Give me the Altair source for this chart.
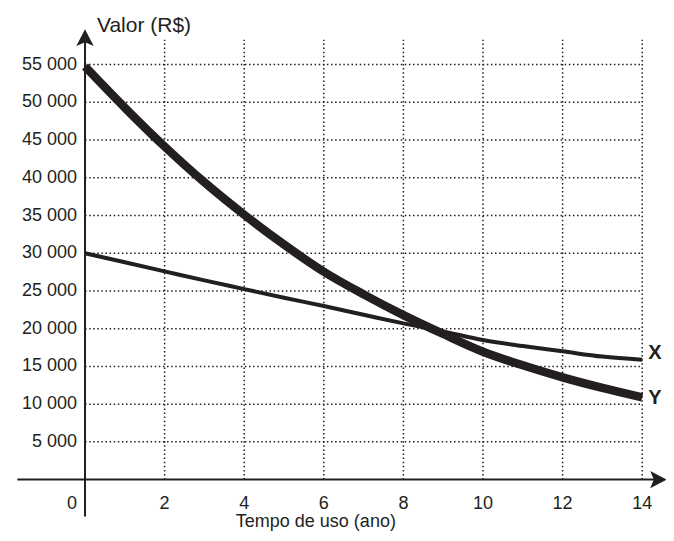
import altair as alt
import pandas as pd

# ---- data ----
anos = list(range(0, 15))
valor_x = [30000, 28800, 27600, 26400, 25250, 24100, 23000, 21850, 20700,
           19650, 18500, 17700, 17000, 16300, 15900]
valor_y = [54750, 49300, 44150, 39400, 35100, 31150, 27550, 24550, 21800,
           19300, 16950, 15150, 13550, 12150, 10900]
x_ticks = [2, 4, 6, 8, 10, 12, 14]
y_ticks = [5000, 10000, 15000, 20000, 25000, 30000, 35000, 40000, 45000, 50000, 55000]
y_tick_labels = [f"{v:,}".replace(",", " ") for v in y_ticks]
x_tick_labels = [str(v) for v in x_ticks]
origin_label = ["0"]
y_title = "Valor (R$)"
x_title = "Tempo de uso (ano)"

# ---- layout ----
X_DOM = [-1.935, 14.598]
Y_DOM = [-7078, 62505]
GRID_TOP = 58300
X_AXIS_START = -1.70
Y_AXIS_START = -4900
X_ARROW_TIP = 14.62
Y_ARROW_TIP = 59682
INK = "#231f20"
FONT = "Liberation Sans"
ARROW = "M0,0L0.6,1.15L0,0.9L-0.6,1.15Z"

xs = alt.Scale(domain=X_DOM, nice=False, zero=False)
ys = alt.Scale(domain=Y_DOM, nice=False, zero=False)


def X(f):
    return alt.X(f, type="quantitative", scale=xs, axis=None)


def Y(f):
    return alt.Y(f, type="quantitative", scale=ys, axis=None)


vgrid = pd.DataFrame({"x": x_ticks, "y": [0] * len(x_ticks), "y2": [GRID_TOP] * len(x_ticks)})
hgrid = pd.DataFrame({"y": y_ticks, "x": [0] * len(y_ticks), "x2": [14] * len(y_ticks)})

grid_v = alt.Chart(vgrid).mark_rule(strokeDash=[1.5, 2.6], strokeWidth=1.5, color=INK).encode(
    x=X("x"), y=Y("y"), y2="y2")
grid_h = alt.Chart(hgrid).mark_rule(strokeDash=[1.5, 2.6], strokeWidth=1.5, color=INK).encode(
    y=Y("y"), x=X("x"), x2="x2")

axes_df = pd.DataFrame({
    "x": [X_AXIS_START, 0], "x2": [X_ARROW_TIP - 0.2, 0],
    "y": [0, Y_AXIS_START], "y2": [0, Y_ARROW_TIP - 1500],
})
axes = alt.Chart(axes_df).mark_rule(strokeWidth=2, color=INK).encode(
    x=X("x"), x2="x2", y=Y("y"), y2="y2")

arrow_up = alt.Chart(pd.DataFrame({"x": [0], "y": [Y_ARROW_TIP]})).mark_point(
    shape=ARROW, filled=True, size=841, color=INK, opacity=1, strokeWidth=0).encode(
    x=X("x"), y=Y("y"))
arrow_right = alt.Chart(pd.DataFrame({"x": [X_ARROW_TIP], "y": [0]})).mark_point(
    shape=ARROW, filled=True, size=841, color=INK, opacity=1, strokeWidth=0, angle=90).encode(
    x=X("x"), y=Y("y"))

df_x = pd.DataFrame({"ano": anos, "valor": valor_x})
df_y = pd.DataFrame({"ano": anos, "valor": valor_y})
line_x = alt.Chart(df_x).mark_line(color=INK, strokeWidth=4, interpolate="monotone",
                                   strokeCap="butt").encode(x=X("ano"), y=Y("valor"))
line_y = alt.Chart(df_y).mark_line(color=INK, strokeWidth=8.5, interpolate="monotone",
                                   strokeCap="butt").encode(x=X("ano"), y=Y("valor"))

ylab = alt.Chart(pd.DataFrame({"y": y_ticks, "t": y_tick_labels, "x": [0] * len(y_ticks)})).mark_text(
    align="right", baseline="middle", dx=-8, fontSize=18, font=FONT, color=INK).encode(
    x=X("x"), y=Y("y"), text="t:N")
xlab = alt.Chart(pd.DataFrame({"x": x_ticks, "t": x_tick_labels, "y": [0] * len(x_ticks)})).mark_text(
    align="center", baseline="middle", dy=24, fontSize=18, font=FONT, color=INK).encode(
    x=X("x"), y=Y("y"), text="t:N")
olab = alt.Chart(pd.DataFrame({"x": [0], "y": [0], "t": origin_label})).mark_text(
    align="right", baseline="middle", dx=-8, dy=24, fontSize=18, font=FONT, color=INK).encode(
    x=X("x"), y=Y("y"), text="t:N")

ytitle = alt.Chart(pd.DataFrame({"x": [0.30], "y": [59324], "t": [y_title]})).mark_text(
    align="left", baseline="alphabetic", fontSize=21, font=FONT, color=INK).encode(
    x=X("x"), y=Y("y"), text="t:N")
xtitle = alt.Chart(pd.DataFrame({"x": [5.80], "y": [-6300], "t": [x_title]})).mark_text(
    align="center", baseline="alphabetic", fontSize=18, font=FONT, color=INK).encode(
    x=X("x"), y=Y("y"), text="t:N")

lab_x = alt.Chart(pd.DataFrame({"x": [anos[-1]], "y": [valor_x[-1]], "t": ["X"]})).mark_text(
    align="left", baseline="middle", dx=6, dy=-7, fontSize=20, fontWeight="bold", font=FONT,
    color=INK).encode(x=X("x"), y=Y("y"), text="t:N")
lab_y = alt.Chart(pd.DataFrame({"x": [anos[-1]], "y": [valor_y[-1]], "t": ["Y"]})).mark_text(
    align="left", baseline="middle", dx=6, dy=1, fontSize=20, fontWeight="bold", font=FONT,
    color=INK).encode(x=X("x"), y=Y("y"), text="t:N")

chart = alt.layer(
    grid_v, grid_h, axes, arrow_up, arrow_right, line_x, line_y,
    ylab, xlab, olab, ytitle, xtitle, lab_x, lab_y,
).properties(
    width=658, height=525, padding=0,
    autosize=alt.AutoSizeParams(type="none"),
    background="white",
).configure_view(stroke=None)

chart.save("out.html", embed_options={"renderer": "svg", "actions": False})
